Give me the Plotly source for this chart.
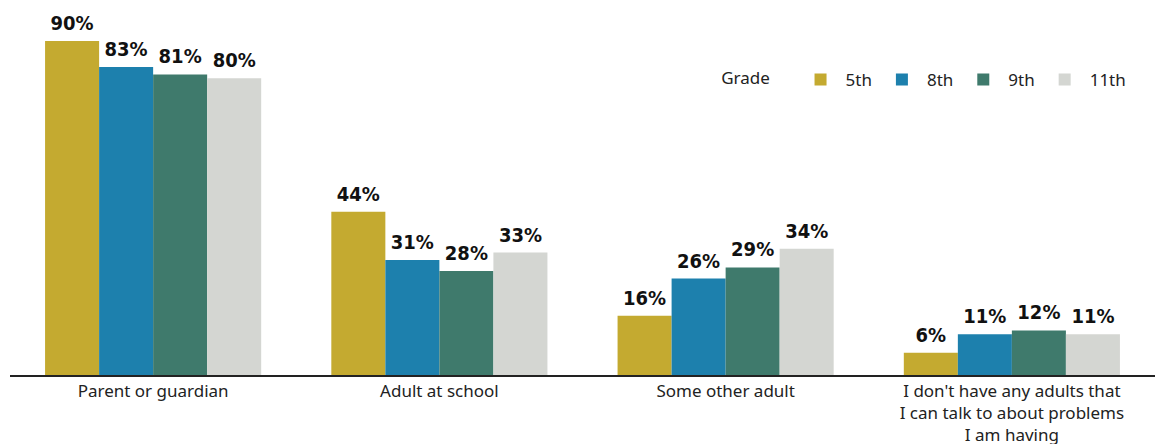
import plotly.graph_objects as go

categories = ["Parent or guardian", "Adult at school", "Some other adult",
              "I don't have any adults that<br>I can talk to about problems<br>I am having"]
grades = ["5th", "8th", "9th", "11th"]
values = {
    "5th": [90, 44, 16, 6],
    "8th": [83, 31, 26, 11],
    "9th": [81, 28, 29, 12],
    "11th": [80, 33, 34, 11],
}
colors = {"5th": "#C4AA30", "8th": "#1D80AD", "9th": "#3F7A6C", "11th": "#D4D6D2"}

fig = go.Figure()
for g in grades:
    fig.add_trace(go.Bar(
        name=g, x=categories, y=values[g],
        marker=dict(color=colors[g], line=dict(width=0)),
    ))
for g in grades:
    fig.add_trace(go.Scatter(
        x=categories, y=values[g], mode="markers+text",
        text=[f"{v}%" for v in values[g]],
        textposition="top center",
        marker=dict(size=8, opacity=0),
        textfont=dict(family="DejaVu Sans Condensed, sans-serif",
                      size=20, color="#111", weight="bold"),
        showlegend=False, hoverinfo="skip", cliponaxis=False,
    ))

fig.update_layout(
    width=1155, height=444,
    margin=dict(l=10, r=0, t=4, b=69, autoexpand=False),
    barmode="group", bargap=0.245, bargroupgap=0,
    scattermode="group", scattergap=0.245,
    plot_bgcolor="white", paper_bgcolor="white",
    font=dict(family="Noto Sans", size=17, color="#222"),
    legend=dict(
        orientation="h", x=1131/1155, xanchor="right", y=0.795, yanchor="middle",
        title=dict(text="Grade    ", font=dict(size=17)),
        font=dict(size=17), itemwidth=40, traceorder="normal",
    ),
    xaxis=dict(showline=True, linecolor="#222", linewidth=1.5, ticks="", showgrid=False,
               automargin=False, tickfont=dict(size=17, color="#222")),
    yaxis=dict(range=[0, 100], visible=False, showgrid=False, automargin=False),
    showlegend=True,
)
fig.write_html("out.html", config={"displayModeBar": False},
               post_script="document.body.style.margin='0';document.body.style.padding='0';")
